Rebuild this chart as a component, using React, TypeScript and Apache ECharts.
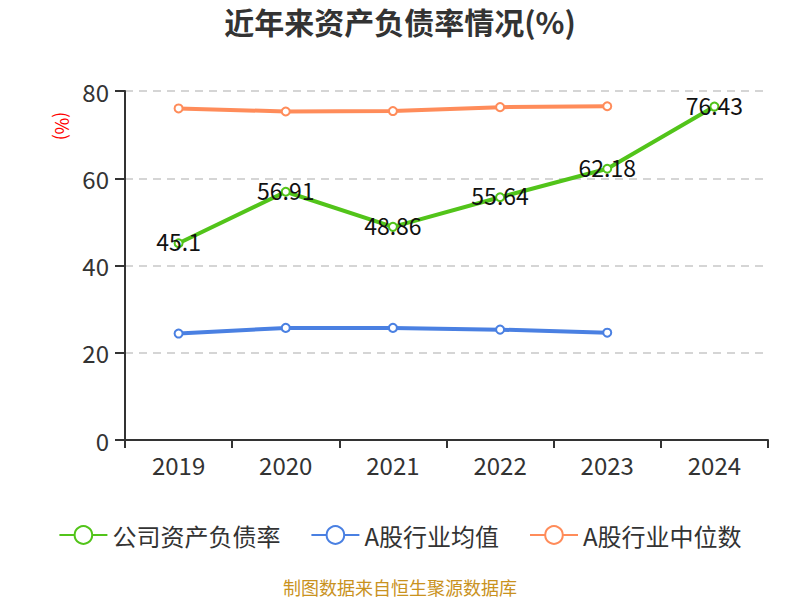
import React, { useEffect, useRef } from "react";
import * as echarts from "echarts";

const years = ["2019", "2020", "2021", "2022", "2023", "2024"];
const companyRatio = [45.1, 56.91, 48.86, 55.64, 62.18, 76.43];
const industryMean = [24.4, 25.7, 25.7, 25.3, 24.6, null];
const industryMedian = [76.0, 75.3, 75.4, 76.3, 76.5, null];
const yTicks = { min: 0, max: 80, interval: 20 };

const FONT = "'Noto Sans CJK SC', 'Microsoft YaHei', sans-serif";

export default function App() {
  const ref = useRef<HTMLDivElement>(null);
  useEffect(() => {
    if (!ref.current) return;
    const chart = echarts.init(ref.current, null, { renderer: "svg" });
    const sym = { symbol: "emptyCircle", symbolSize: 8 };
    chart.setOption({
      animation: false,
      textStyle: { fontFamily: FONT },
      title: {
        text: "近年来资产负债率情况(%)",
        left: "center",
        top: 1,
        textStyle: { fontSize: 30, fontWeight: "bold", color: "#333", fontFamily: FONT },
      },
      legend: {
        top: 518,
        left: "center",
        itemWidth: 48,
        itemHeight: 22,
        itemGap: 30,
        textStyle: { fontSize: 24, color: "#333", fontFamily: FONT },
        data: ["公司资产负债率", "A股行业均值", "A股行业中位数"],
      },
      grid: { left: 125, right: 32, top: 91, bottom: 160 },
      xAxis: {
        type: "category",
        data: years,
        boundaryGap: true,
        axisLine: { lineStyle: { color: "#333", width: 2 } },
        axisTick: { show: true, length: 8, lineStyle: { color: "#333", width: 2 } },
        axisLabel: { fontSize: 24, color: "#333", margin: 12, fontFamily: FONT },
        splitLine: { show: false },
      },
      yAxis: {
        type: "value",
        min: yTicks.min,
        max: yTicks.max,
        interval: yTicks.interval,
        axisLine: { show: true, lineStyle: { color: "#333", width: 2 } },
        axisTick: { show: true, length: 10, lineStyle: { color: "#333", width: 2 } },
        axisLabel: { fontSize: 24, color: "#333", margin: 16, fontFamily: FONT },
        splitLine: { show: true, lineStyle: { color: "#c8c8c8", type: [8, 6], width: 1.5 } },
      },
      graphic: [
        {
          type: "text",
          x: 63,
          y: 126,
          rotation: -Math.PI / 2,
          style: {
            text: "(%)",
            fill: "#ff0000",
            fontSize: 18,
            fontFamily: FONT,
            textAlign: "center",
            textVerticalAlign: "middle",
          },
        },
        {
          type: "text",
          left: "center",
          top: 578,
          style: {
            text: "制图数据来自恒生聚源数据库",
            fill: "#c9921e",
            fontSize: 18,
            fontFamily: FONT,
          },
        },
      ],
      series: [
        {
          name: "公司资产负债率",
          type: "line",
          data: companyRatio,
          ...sym,
          itemStyle: { color: "#52c41a" },
          lineStyle: { color: "#52c41a", width: 4 },
          label: {
            show: true,
            position: "inside",
            offset: [0, -2],
            fontSize: 23,
            color: "#111",
            fontFamily: FONT,
          },
          z: 3,
        },
        {
          name: "A股行业均值",
          type: "line",
          data: industryMean,
          ...sym,
          itemStyle: { color: "#4a80e2" },
          lineStyle: { color: "#4a80e2", width: 4 },
          z: 2,
        },
        {
          name: "A股行业中位数",
          type: "line",
          data: industryMedian,
          ...sym,
          itemStyle: { color: "#ff8c5a" },
          lineStyle: { color: "#ff8c5a", width: 4 },
          z: 2,
        },
      ],
    });
    return () => chart.dispose();
  }, []);
  return (
    <div
      ref={ref}
      style={{ position: "fixed", left: 0, top: 0, width: 800, height: 600, background: "#fff" }}
    />
  );
}
